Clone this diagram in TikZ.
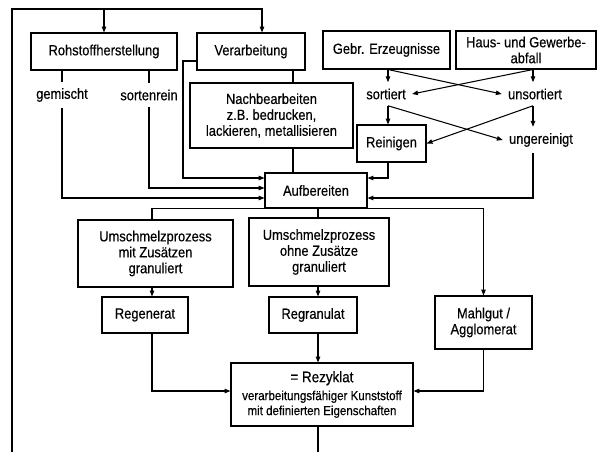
\documentclass[tikz,border=0pt]{standalone}
\usepackage{fontspec}
\setmainfont{Liberation Sans}[FakeStretch=0.88,FakeBold=0.4]
\usetikzlibrary{arrows.meta}
\begin{document}
\begin{tikzpicture}[x=0.03cm,y=-0.03cm,line width=0.9pt,>={Triangle[length=5pt,width=3.8pt]},font=\fontsize{12.5}{13.6}\selectfont]
		\tikzstyle{box}=[draw,align=center,inner sep=2pt]
		\tikzstyle{lab}=[inner sep=5pt]
		\useasboundingbox (0,0) rectangle (598,452);

		\node[box,minimum width=4.38cm,minimum height=1.11cm](roh) at (104,51.5){Rohstoffherstellung};
		\node[box,minimum width=3.24cm,minimum height=1.11cm](verarb) at (251,51.5){Verarbeitung};
		\node[box,minimum width=3.81cm,minimum height=1.14cm](gebr) at (386.5,50){Gebr. Erzeugnisse};
		\node[box,minimum width=4.2cm,minimum height=1.14cm](haus) at (526,50){Haus- und Gewerbe-\\abfall};
		\node[box,minimum width=4.89cm,minimum height=1.95cm](nach) at (271.5,115.5){Nachbearbeiten\\z.B. bedrucken,\\lackieren, metallisieren};
		\node[box,minimum width=2.07cm,minimum height=1.11cm](rein) at (391.5,143.5){Reinigen};
		\node[box,minimum width=3.06cm,minimum height=1.05cm](auf) at (316,190.5){Aufbereiten};
		\node[box,minimum width=4.65cm,minimum height=2.01cm](mit) at (155.5,253.5){Umschmelzprozess\\mit Zusätzen\\granuliert};
		\node[box,minimum width=4.2cm,minimum height=2.04cm](ohne) at (319,252){Umschmelzprozess\\ohne Zusätze\\granuliert};
		\node[box,minimum width=2.58cm,minimum height=1.08cm](regen) at (145,315){Regenerat};
		\node[box,minimum width=2.64cm,minimum height=1.08cm](regran) at (313,315){Regranulat};
		\node[box,minimum width=2.91cm,minimum height=1.59cm](mahl) at (483.5,322.5){Mahlgut /\\Agglomerat};
		\node[box,minimum width=5.46cm,minimum height=1.89cm,font=\fontsize{11.2}{12.8}\selectfont](rez) at (322,394.5){{\fontsize{13}{14}\selectfont = Rezyklat}\\[2.5pt]verarbeitungsfähiger Kunststoff\\mit definierten Eigenschaften};

		\node[lab](gem) at (62,95){gemischt};
		\node[lab](sor) at (149,95){sortenrein};
		\node[lab](sort) at (386,94){sortiert};
		\node[lab](unsort) at (535,94){unsortiert};
		\node[lab](unger) at (541,140){ungereinigt};

		\coordinate (xl) at (12,452);
		\coordinate (yt) at (262,9);
		\coordinate (xv) at (183,61);
		\coordinate (xn) at (293,0);
		\coordinate (sx) at (388,0);
		\coordinate (ux) at (533,0);
		\coordinate (xa) at (152,0);
		\coordinate (xb) at (318,0);
		\coordinate (ya) at (0,178);
		\coordinate (yb) at (0,188);
		\coordinate (yc) at (0,198);
		\coordinate (yr) at (0,391);

		\draw[->] (xl) |- (yt) -- (verarb.north -| yt);
		\draw[->] (roh.north |- yt) -- (roh.north);
		\draw (rez.south -| xb) -- (xb |- xl);

		\draw (roh.south -| gem) -- (gem);
		\draw[->] (gem) |- (auf.west |- yc);
		\draw (roh.south -| sor) -- (sor);
		\draw[->] (sor) |- (auf.west |- yb);
		\draw[->] (verarb.west |- xv) -| (xv |- ya) -- (auf.west |- ya);
		\draw (verarb.south -| xn) -- (nach.north -| xn);
		\draw (nach.south -| xn) -- (auf.north -| xn);

		\draw[->] (gebr.south -| sx) -- (sort.north -| sx);
		\draw[->] (gebr.south -| sx) -- (unsort.west);
		\draw[->] (haus.south -| ux) -- (unsort.north -| ux);
		\draw[->] (haus.south -| ux) -- (sort.east);
		\draw[->] (sort.south -| sx) -- (rein.north -| sx);
		\draw[->] (sort.south -| sx) -- (unger.west);
		\draw[->] (unsort.south -| ux) -- (unger.north -| ux);
		\draw[->] (unsort.south -| ux) -- (rein.east);
		\draw[->] (rein.south -| sx) |- (auf.east |- ya);
		\draw[->] (unger.south -| ux) |- (auf.east |- yc);

		\draw (auf.south west) -| (mit.north -| xa);
		\draw (auf.south -| xb) -- (ohne.north -| xb);
		\draw[->] (auf.south east) -| (mahl.north);
		\draw[->] (mit.south -| xa) -- (regen.north -| xa);
		\draw[->] (ohne.south -| xb) -- (regran.north -| xb);
		\draw[->] (regen.south -| xa) |- (rez.west |- yr);
		\draw[->] (regran.south -| xb) -- (rez.north -| xb);
		\draw[->] (mahl.south) |- (rez.east |- yr);
	\end{tikzpicture}
\end{document}
